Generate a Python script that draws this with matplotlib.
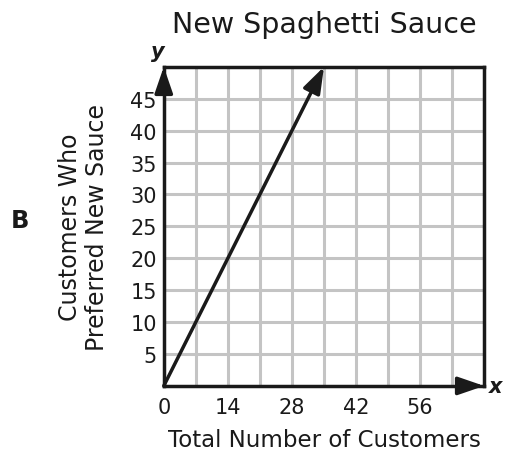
import matplotlib
matplotlib.use("Agg")
import matplotlib.pyplot as plt

# data
x_line = [0, 35]
y_line = [0, 50]
x_ticks = [0, 14, 28, 42, 56]
y_ticks = [5, 10, 15, 20, 25, 30, 35, 40, 45]
x_grid = list(range(7, 70, 7))
y_grid = list(range(5, 50, 5))

plt.rcParams['font.family'] = ['DejaVu Sans']
ink = '#1a1a1a'
arrow = dict(arrowstyle='-|>,head_length=1.6,head_width=0.55',
             color=ink, lw=2.5, shrinkA=0, shrinkB=0)

fig = plt.figure(figsize=(5.07, 4.52), dpi=100)
ax = fig.add_axes([0.323, 0.144, 0.632, 0.706])
ax.set_xlim(0, 70)
ax.set_ylim(0, 50)

for gx in x_grid:
    ax.axvline(gx, color='#c4c4c4', lw=2.2, zorder=1)
for gy in y_grid:
    ax.axhline(gy, color='#c4c4c4', lw=2.2, zorder=1)

for s in ax.spines.values():
    s.set_linewidth(2.5)
    s.set_color(ink)

# axis arrow heads
ax.annotate('', xy=(0, 50), xytext=(0, 46), annotation_clip=False,
            arrowprops=arrow, zorder=6)
ax.annotate('', xy=(70, 0), xytext=(65, 0), annotation_clip=False,
            arrowprops=arrow, zorder=6)

# line
ax.annotate('', xy=(x_line[1], y_line[1]), xytext=(x_line[0], y_line[0]),
            arrowprops=arrow, zorder=5)

ax.set_xticks(x_ticks)
ax.set_yticks(y_ticks)
ax.tick_params(length=0, labelsize=15, colors=ink)
ax.tick_params(axis='x', pad=8)
ax.tick_params(axis='y', pad=5)

ax.set_title('New Spaghetti Sauce', fontsize=20.5, color=ink, pad=25)
ax.set_xlabel('Total Number of Customers', fontsize=16.5, color=ink, labelpad=8)
ax.set_ylabel('Customers Who\nPreferred New Sauce', fontsize=17, color=ink,
              labelpad=15, linespacing=1.2)

ax.text(72.5, 0, 'x', fontsize=15, fontweight='bold', style='italic',
        va='center', ha='center', color=ink)
ax.text(-1.2, 52.5, 'y', fontsize=15, fontweight='bold', style='italic',
        va='center', ha='center', color=ink)
fig.text(0.04, 0.51, 'B', fontsize=17.5, fontweight='bold', va='center', ha='center',
         color=ink)

fig.savefig('out.png', dpi=100)
